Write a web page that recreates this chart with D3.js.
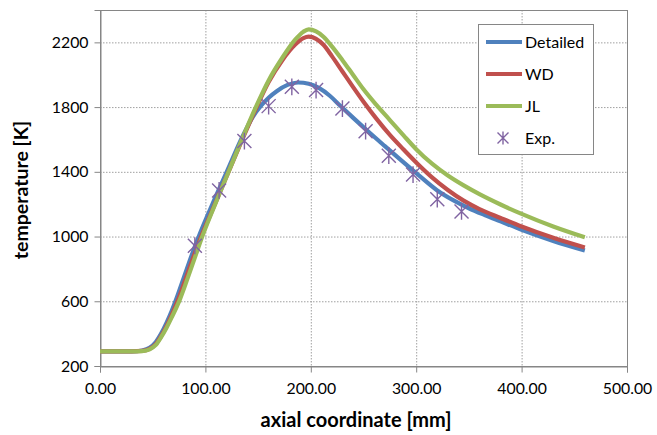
<!DOCTYPE html>
<html>
<head>
<meta charset="utf-8">
<script src="https://cdn.jsdelivr.net/npm/d3@7"></script>
<style>
  html, body { margin: 0; padding: 0; background: #fff; }
  svg { display: block; }
  text { font-family: Lato, "Open Sans", sans-serif; fill: #000; }
</style>
</head>
<body>
<svg id="chart" width="657" height="435"></svg>
<script>
// Axial temperature profiles (mm, K)
const detailedX = [0, 30, 40, 47, 53, 58, 63, 68, 73, 80, 87, 94, 107, 121, 135, 145, 153, 160, 168, 178, 188, 198, 208, 218, 228, 240, 254, 270, 285, 300, 320, 335, 350, 365, 380, 400, 430, 460];
const detailedT = [290, 290, 296, 312, 348, 400, 465, 540, 625, 755, 885, 1005, 1205, 1410, 1615, 1740, 1810, 1858, 1900, 1937, 1952, 1944, 1917, 1870, 1808, 1735, 1652, 1560, 1475, 1392, 1285, 1225, 1175, 1133, 1094, 1042, 973, 914];

const wdX = [0, 30, 40, 47, 53, 58, 63, 68, 75, 82, 89, 96, 108, 121, 134, 147.5, 160, 173, 185, 193, 198, 205, 212, 220, 230, 240, 250, 262, 275, 288, 300, 315, 330, 345, 360, 380, 400, 430, 460];
const wdT = [290, 290, 293, 306, 336, 385, 445, 515, 625, 752, 880, 1000, 1185, 1385, 1585, 1785, 1955, 2090, 2185, 2226, 2235, 2222, 2185, 2115, 2020, 1925, 1833, 1730, 1628, 1538, 1458, 1366, 1288, 1222, 1170, 1115, 1062, 992, 932];

const jlX = [0, 30, 40, 47, 53, 58, 63, 68, 76, 83, 90, 97, 108, 121, 134, 147.5, 160, 173, 185, 193, 198, 205, 212, 220, 230, 240, 250, 262, 275, 288, 300, 315, 330, 345, 360, 380, 400, 430, 460];
const jlT = [290, 290, 292, 303, 330, 378, 435, 500, 615, 740, 870, 1000, 1180, 1385, 1590, 1795, 1965, 2105, 2215, 2266, 2280, 2268, 2235, 2175, 2090, 2000, 1910, 1815, 1720, 1625, 1540, 1450, 1377, 1316, 1262, 1198, 1140, 1062, 995];

// Measurements
const expX = [90, 113, 137, 160, 182, 205, 230, 252, 274, 297, 320, 343];
const expT = [943, 1285, 1590, 1806, 1925, 1905, 1791, 1651, 1500, 1383, 1231, 1155];

const xTicks = [0, 100, 200, 300, 400, 500];
const yTicks = [200, 600, 1000, 1400, 1800, 2200];

const seriesNames = ["Detailed", "WD", "JL", "Exp."];
const seriesColors = ["#4F81BD", "#C0504D", "#9BBB59", "#8064A2"];

const svg = d3.select("#chart");
const plot = { left: 100, right: 627, top: 10, bottom: 366 };

const x = d3.scaleLinear().domain([0, 500]).range([plot.left, plot.right]);
const y = d3.scaleLinear().domain([200, 2400]).range([plot.bottom, plot.top]);

const axisColor = "#868686";
const gridColor = "#a0a0a0";

// gridlines
const grid = svg.append("g");
grid.selectAll("line.h").data(yTicks.filter(v => v > 200)).join("line")
  .attr("x1", plot.left).attr("x2", plot.right)
  .attr("y1", d => y(d) + 0.5).attr("y2", d => y(d) + 0.5)
  .attr("stroke", gridColor).attr("stroke-width", 1).attr("stroke-dasharray", "1.5,1.5");
grid.selectAll("line.v").data(xTicks.filter(v => v > 0 && v < 500)).join("line")
  .attr("x1", d => x(d) + 0.5).attr("x2", d => x(d) + 0.5)
  .attr("y1", plot.top).attr("y2", plot.bottom)
  .attr("stroke", gridColor).attr("stroke-width", 1).attr("stroke-dasharray", "1.5,1.5");

// plot area frame
svg.append("rect")
  .attr("x", plot.left + 0.5).attr("y", plot.top + 0.5)
  .attr("width", plot.right - plot.left).attr("height", plot.bottom - plot.top)
  .attr("fill", "none").attr("stroke", axisColor).attr("stroke-width", 1);

// axes
const xAxis = svg.append("g")
  .attr("transform", `translate(0,${plot.bottom + 0.5})`)
  .call(d3.axisBottom(x).tickValues(xTicks).tickFormat(d3.format(".2f")).tickSize(6).tickPadding(10));
const yAxis = svg.append("g")
  .attr("transform", `translate(${plot.left + 0.5},0)`)
  .call(d3.axisLeft(y).tickValues(yTicks).tickFormat(d3.format("d")).tickSize(6).tickPadding(6));
[xAxis, yAxis].forEach(a => {
  a.select(".domain").attr("stroke", axisColor);
  a.selectAll(".tick line").attr("stroke", axisColor);
  a.selectAll(".tick text").attr("font-size", 15.8).attr("fill", "#000")
    .style("font-family", "Lato, 'Open Sans', sans-serif");
});

// axis titles
svg.append("text")
  .attr("x", 356).attr("y", 427)
  .attr("text-anchor", "middle").attr("font-size", 20).attr("font-weight", "bold")
  .text("axial coordinate [mm]");
svg.append("text")
  .attr("transform", "translate(28,190) rotate(-90)")
  .attr("text-anchor", "middle").attr("font-size", 19.5).attr("font-weight", "bold")
  .text("temperature [K]");

// model curves
const line = d3.line().x(d => x(d[0])).y(d => y(d[1])).curve(d3.curveMonotoneX);
const curves = [
  [detailedX, detailedT],
  [wdX, wdT],
  [jlX, jlT]
];
curves.forEach(([xs, ts], i) => {
  svg.append("path")
    .datum(xs.map((v, k) => [v, ts[k]]))
    .attr("d", line)
    .attr("fill", "none")
    .attr("stroke", seriesColors[i])
    .attr("stroke-width", 4.2)
    .attr("stroke-linejoin", "round");
});

// asterisk marker
function star(g, cx, cy, r, color) {
  const p = `M${cx - r},${cy - r}L${cx + r},${cy + r}M${cx - r},${cy + r}L${cx + r},${cy - r}M${cx},${cy - r * 1.2}L${cx},${cy + r * 1.2}`;
  g.append("path").attr("d", p).attr("stroke", color).attr("stroke-width", 1.4).attr("fill", "none");
}
const expG = svg.append("g");
expX.forEach((v, k) => star(expG, x(v), y(expT[k]), 7, seriesColors[3]));

// legend
const lg = svg.append("g");
lg.append("rect").attr("x", 478.5).attr("y", 24.5).attr("width", 115).attr("height", 130)
  .attr("fill", "#fff").attr("stroke", axisColor);
const rowY = [42, 74, 106, 138];
seriesNames.forEach((name, i) => {
  if (i < 3) {
    lg.append("line").attr("x1", 486).attr("x2", 522)
      .attr("y1", rowY[i]).attr("y2", rowY[i])
      .attr("stroke", seriesColors[i]).attr("stroke-width", 4);
  } else {
    star(lg, 503, rowY[i], 5.5, seriesColors[3]);
  }
  lg.append("text").attr("x", 525).attr("y", rowY[i] + 6)
    .attr("font-size", 16).text(name);
});
</script>
</body>
</html>
